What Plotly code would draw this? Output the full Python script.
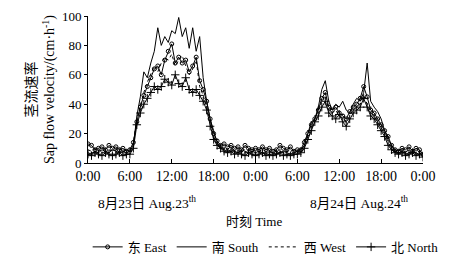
import plotly.graph_objects as go

# time in hours from 0:00 on Aug 23 (30-min steps)
hours = [i * 0.5 for i in range(97)]

east = [13, 12, 9, 10, 11, 9, 12, 10, 11, 9, 10, 8, 9, 14, 28, 38, 46, 52, 58, 64,
        66, 60, 70, 76, 81, 68, 72, 68, 70, 62, 66, 72, 56, 50, 42, 30, 20, 15, 12, 13,
        11, 12, 10, 11, 9, 12, 10, 9, 10, 9, 11, 9, 10, 8, 9, 12, 10, 9, 11, 8,
        9, 9, 14, 20, 26, 30, 36, 44, 48, 38, 36, 38, 34, 32, 30, 35, 38, 40, 44, 52,
        45, 36, 34, 30, 26, 22, 18, 12, 9, 8, 10, 9, 11, 8, 10, 9, 6]

south = [7, 6, 8, 7, 9, 8, 7, 9, 8, 7, 8, 7, 8, 12, 32, 45, 62, 58, 68, 76,
         92, 80, 86, 82, 90, 88, 99, 86, 92, 78, 92, 76, 86, 58, 42, 30, 22, 14, 10, 9,
         8, 9, 8, 7, 9, 8, 7, 8, 7, 8, 7, 6, 8, 7, 6, 7, 8, 7, 6, 7,
         8, 8, 12, 20, 28, 30, 38, 50, 56, 42, 36, 40, 38, 42, 36, 34, 40, 44, 42, 48,
         68, 42, 38, 35, 30, 22, 16, 12, 8, 7, 8, 6, 7, 8, 6, 7, 5]

west = [9, 8, 10, 9, 8, 10, 9, 8, 9, 10, 8, 9, 8, 13, 30, 40, 48, 55, 60, 66,
        62, 68, 72, 70, 74, 66, 70, 73, 66, 60, 64, 70, 52, 46, 38, 28, 18, 13, 11, 10,
        9, 10, 9, 8, 10, 9, 8, 9, 8, 9, 8, 9, 7, 8, 9, 8, 7, 8, 9, 8,
        8, 9, 12, 18, 24, 30, 35, 42, 46, 36, 34, 36, 32, 30, 28, 32, 36, 38, 40, 46,
        40, 34, 32, 28, 24, 20, 14, 10, 8, 9, 8, 7, 9, 8, 7, 8, 6]

north = [6, 5, 7, 6, 5, 7, 6, 5, 6, 7, 5, 6, 6, 10, 26, 34, 40, 44, 48, 52,
         50, 52, 57, 55, 53, 60, 54, 52, 58, 50, 48, 50, 46, 42, 36, 25, 16, 12, 10, 8,
         7, 8, 6, 7, 6, 5, 7, 6, 5, 6, 7, 5, 6, 5, 6, 7, 5, 6, 5, 6,
         6, 7, 10, 16, 22, 28, 32, 38, 42, 34, 32, 30, 33, 28, 25, 30, 34, 36, 38, 44,
         38, 32, 30, 26, 22, 18, 12, 9, 7, 6, 7, 5, 6, 7, 5, 6, 4]

tick_vals = [0, 6, 12, 18, 24, 30, 36, 42, 48]
tick_text = ["0:00", "6:00", "12:00", "18:00", "0:00", "6:00", "12:00", "18:00", "0:00"]
y_ticks = [0, 20, 40, 60, 80, 100]

FONT = "Liberation Serif, Times New Roman, Noto Sans CJK SC, serif"

fig = go.Figure()
fig.add_trace(go.Scatter(x=hours, y=east, mode="lines+markers", name="东 East",
                         line=dict(color="black", width=1),
                         marker=dict(symbol="circle-open", size=4, color="black",
                                     line=dict(width=1, color="black"))))
fig.add_trace(go.Scatter(x=hours, y=south, mode="lines", name="南 South",
                         line=dict(color="black", width=1)))
fig.add_trace(go.Scatter(x=hours, y=west, mode="lines", name="西 West",
                         line=dict(color="black", width=1, dash="dot")))
fig.add_trace(go.Scatter(x=hours, y=north, mode="lines+markers", name="北 North",
                         line=dict(color="black", width=1),
                         marker=dict(symbol="cross-thin", size=6, color="black",
                                     line=dict(width=1, color="black"))))

# page body has an 8px default margin, so the figure is sized/offset to compensate
fig.update_layout(
    width=457, height=256,
    margin=dict(l=80, r=42, t=8, b=101, autoexpand=False),
    paper_bgcolor="white", plot_bgcolor="white",
    font=dict(family=FONT, size=13, color="black"),
    showlegend=True,
    legend=dict(orientation="h", x=-0.001, xanchor="left", y=-0.571, yanchor="middle",
                font=dict(size=13), itemwidth=30, tracegroupgap=0,
                bgcolor="rgba(0,0,0,0)", borderwidth=0),
    xaxis=dict(range=[0, 48], tickvals=tick_vals, ticktext=tick_text,
               showline=True, linecolor="black", linewidth=1, mirror=False,
               ticks="inside", ticklen=4, tickcolor="black", showgrid=False,
               zeroline=False, tickfont=dict(size=14), automargin=False),
    yaxis=dict(range=[0, 100], tickvals=y_ticks, showline=True, linecolor="black",
               linewidth=1, ticks="outside", ticklen=3, tickcolor="black",
               showgrid=False, zeroline=False, tickfont=dict(size=13), automargin=False,
               title=dict(text="茎流速率<br>Sap flow velocity/(cm·h<sup>-1</sup>)",
                          font=dict(size=14), standoff=3)),
    annotations=[
        dict(text="8月23日 Aug.23<sup>th</sup>", x=8.45, y=-0.27, xref="x", yref="paper",
             showarrow=False, font=dict(size=13.5), xanchor="center", yanchor="middle"),
        dict(text="8月24日 Aug.24<sup>th</sup>", x=38.8, y=-0.27, xref="x", yref="paper",
             showarrow=False, font=dict(size=13.5), xanchor="center", yanchor="middle"),
        dict(text="时刻 Time", x=23.8, y=-0.395, xref="x", yref="paper",
             showarrow=False, font=dict(size=13), xanchor="center", yanchor="middle"),
    ],
)

fig.write_html("out.html")
